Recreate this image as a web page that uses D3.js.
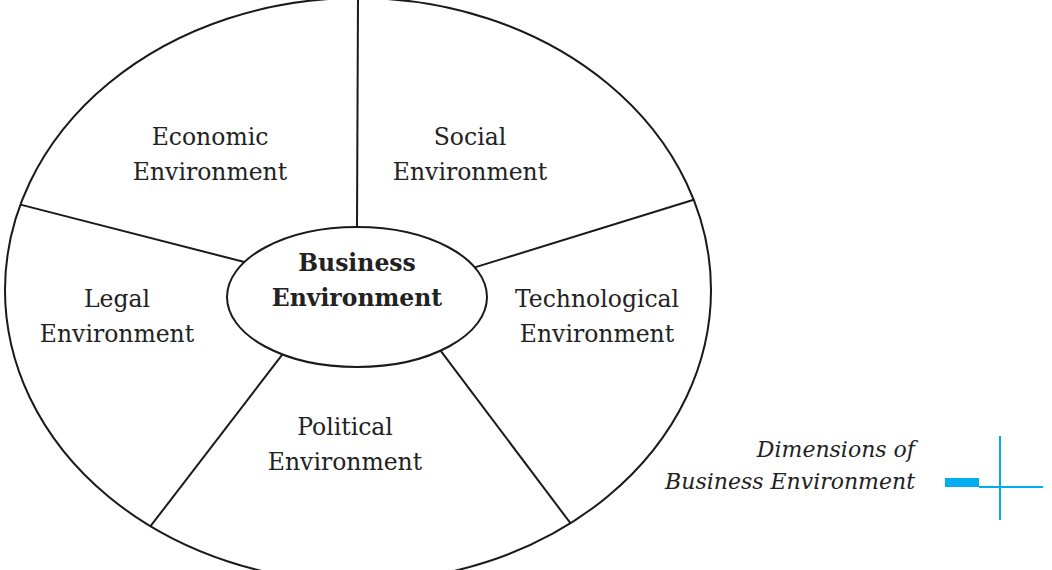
<!DOCTYPE html>
<html lang="en">
<head>
<meta charset="UTF-8">
<script src="https://d3js.org/d3.v7.min.js"></script>
<style>
  body { margin: 0; background: #fff; }
  text { font-family: "DejaVu Serif", "Liberation Serif", serif; fill: #222; }
</style>
</head>
<body>
<svg id="chart" width="1052" height="570"></svg>
<script>
// segment labels (two lines each) and label anchor points
const segments = [
  { lines: ["Economic", "Environment"], x: 210, y: 145 },
  { lines: ["Social", "Environment"], x: 470, y: 145 },
  { lines: ["Legal", "Environment"], x: 117, y: 307 },
  { lines: ["Technological", "Environment"], x: 597, y: 307 },
  { lines: ["Political", "Environment"], x: 345, y: 435 }
];
const centerLines = ["Business", "Environment"];
// spokes: parametric angle on outer ellipse and on inner ellipse (degrees)
const outerAngles = [-90, -163, -18, 126, 53];
const innerAngles = [-90, -150, -25, 125, 50];
const caption = ["Dimensions of", "Business Environment"];

const svg = d3.select("#chart");
const outer = { cx: 358, cy: 290, rx: 353, ry: 292 };
const inner = { cx: 357, cy: 297, rx: 130, ry: 70 };
const pt = (e, a) => {
  const t = a * Math.PI / 180;
  return [e.cx + e.rx * Math.cos(t), e.cy + e.ry * Math.sin(t)];
};

svg.append("ellipse").attr("cx", outer.cx).attr("cy", outer.cy)
  .attr("rx", outer.rx).attr("ry", outer.ry)
  .attr("fill", "none").attr("stroke", "#1a1a1a").attr("stroke-width", 2);

svg.selectAll("line.spoke").data(d3.zip(outerAngles, innerAngles)).enter()
  .append("line").attr("class", "spoke")
  .attr("x1", d => pt(outer, d[0])[0]).attr("y1", d => pt(outer, d[0])[1])
  .attr("x2", d => pt(inner, d[1])[0]).attr("y2", d => pt(inner, d[1])[1])
  .attr("stroke", "#1a1a1a").attr("stroke-width", 2);

svg.append("ellipse").attr("cx", inner.cx).attr("cy", inner.cy)
  .attr("rx", inner.rx).attr("ry", inner.ry)
  .attr("fill", "#fff").attr("stroke", "#1a1a1a").attr("stroke-width", 2);

segments.forEach(s => {
  s.lines.forEach((l, i) => {
    svg.append("text").attr("x", s.x).attr("y", s.y + i * 35)
      .attr("text-anchor", "middle").attr("font-size", 23.5).text(l);
  });
});
centerLines.forEach((l, i) => {
  svg.append("text").attr("x", 357).attr("y", 271 + i * 35)
    .attr("text-anchor", "middle").attr("font-size", 23.5)
    .attr("font-weight", "bold").text(l);
});
caption.forEach((l, i) => {
  svg.append("text").attr("x", 915).attr("y", 457 + i * 32)
    .attr("text-anchor", "end").attr("font-size", 22)
    .attr("font-style", "italic").text(l);
});

// cyan marker
svg.append("rect").attr("x", 945).attr("y", 478).attr("width", 34).attr("height", 9).attr("fill", "#00aeef");
svg.append("line").attr("x1", 979).attr("y1", 487).attr("x2", 1043).attr("y2", 487)
  .attr("stroke", "#00aeef").attr("stroke-width", 2);
svg.append("line").attr("x1", 1000).attr("y1", 436).attr("x2", 1000).attr("y2", 520)
  .attr("stroke", "#00aeef").attr("stroke-width", 2);
</script>
</body>
</html>
